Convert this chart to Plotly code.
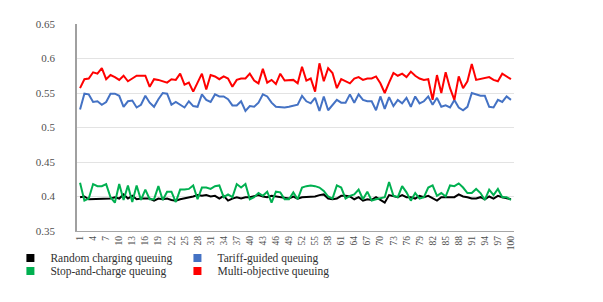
import plotly.graph_objects as go

x_vals = list(range(1, 101))
tick_vals = list(range(1, 101, 3))
tick_text = [str(v) for v in tick_vals]
y_ticks = [0.35, 0.4, 0.45, 0.5, 0.55, 0.6, 0.65]
y_text = ["0.35", "0.4", "0.45", "0.5", "0.55", "0.6", "0.65"]

random_q = [
    0.399, 0.400, 0.396, 0.396, 0.397, 0.396, 0.397, 0.397, 0.399, 0.397,
    0.403, 0.397, 0.401, 0.396, 0.397, 0.397, 0.397, 0.394, 0.397, 0.396,
    0.397, 0.395, 0.394, 0.396, 0.397, 0.399, 0.400, 0.402, 0.401, 0.402,
    0.400, 0.401, 0.397, 0.401, 0.394, 0.397, 0.399,
    0.397, 0.399, 0.399, 0.401, 0.402, 0.400, 0.399, 0.401, 0.400, 0.399,
    0.399, 0.397, 0.400, 0.397, 0.399, 0.399, 0.400, 0.400, 0.402, 0.403,
    0.397, 0.396, 0.397, 0.401, 0.401, 0.400, 0.396, 0.399, 0.394, 0.396,
    0.395, 0.399, 0.395, 0.391, 0.402, 0.401, 0.399, 0.402, 0.399,
    0.399, 0.397, 0.401, 0.399, 0.401, 0.397, 0.394, 0.399, 0.399, 0.400,
    0.399, 0.403, 0.400, 0.399, 0.397, 0.397, 0.399, 0.396, 0.400, 0.397,
    0.401, 0.399, 0.397, 0.396,
]

tariff_q = [
    0.526, 0.549, 0.548, 0.537, 0.538, 0.533, 0.537, 0.549, 0.549, 0.546,
    0.530, 0.538, 0.539, 0.529, 0.533, 0.546, 0.536, 0.530, 0.541, 0.550,
    0.549, 0.533, 0.537, 0.533, 0.529, 0.538, 0.531, 0.530, 0.548, 0.540,
    0.537, 0.548, 0.545, 0.545,
    0.541, 0.532, 0.532, 0.538, 0.524, 0.531, 0.530, 0.536, 0.548, 0.545,
    0.536, 0.530, 0.529, 0.529, 0.530, 0.532, 0.533, 0.546, 0.538, 0.535,
    0.543, 0.524, 0.545, 0.525, 0.533, 0.540, 0.536, 0.536, 0.548, 0.536,
    0.548, 0.540, 0.538,
    0.538, 0.525, 0.545, 0.527, 0.544, 0.531, 0.540, 0.535, 0.543, 0.530,
    0.545, 0.535, 0.538, 0.545, 0.533, 0.543, 0.530, 0.532, 0.529, 0.540,
    0.529, 0.525, 0.530, 0.550, 0.548, 0.546, 0.546, 0.530, 0.529, 0.540,
    0.537, 0.545, 0.540,
]

stop_q = [
    0.420, 0.394, 0.397, 0.418, 0.415, 0.415, 0.418, 0.399, 0.391, 0.418,
    0.395, 0.416, 0.392, 0.416, 0.395, 0.410, 0.396, 0.396, 0.415, 0.395,
    0.407, 0.407, 0.392, 0.410, 0.410, 0.411, 0.416, 0.396, 0.413, 0.413,
    0.411, 0.415, 0.416, 0.399, 0.403, 0.399, 0.418,
    0.413, 0.418, 0.396, 0.399, 0.405, 0.401, 0.407, 0.391, 0.407, 0.406,
    0.396, 0.396, 0.406, 0.396, 0.413, 0.415, 0.416, 0.415, 0.413, 0.408,
    0.400, 0.397, 0.416, 0.413, 0.397, 0.401, 0.403, 0.410, 0.396, 0.407,
    0.394, 0.396, 0.397, 0.399, 0.421, 0.401, 0.399, 0.415,
    0.406,
    0.394, 0.405, 0.397, 0.399, 0.413, 0.416, 0.401, 0.405, 0.400, 0.416,
    0.415, 0.419, 0.413, 0.405, 0.405, 0.411, 0.405, 0.395, 0.410, 0.402,
    0.411, 0.399, 0.399, 0.395,
]

multi_q = [
    0.557, 0.570, 0.571, 0.580, 0.578, 0.586, 0.570, 0.576, 0.573, 0.569,
    0.575, 0.567, 0.571, 0.575, 0.575, 0.575, 0.559, 0.570, 0.569, 0.567,
    0.565, 0.570, 0.569, 0.578, 0.562, 0.565, 0.552, 0.565, 0.578, 0.555,
    0.576, 0.574, 0.570, 0.574,
    0.571, 0.559, 0.569, 0.571, 0.571, 0.578, 0.568, 0.564, 0.585, 0.565,
    0.569, 0.563, 0.578, 0.568, 0.568, 0.569, 0.564, 0.588, 0.568, 0.571,
    0.552, 0.593, 0.567, 0.586, 0.579, 0.557, 0.570, 0.567, 0.564, 0.571,
    0.573, 0.569, 0.571,
    0.571, 0.574, 0.564, 0.550, 0.565, 0.579, 0.575, 0.578, 0.573, 0.581,
    0.575, 0.571, 0.569, 0.570, 0.540, 0.576, 0.550, 0.580, 0.557, 0.540,
    0.574, 0.557, 0.567, 0.592, 0.569, 0.570, 0.571, 0.573, 0.569, 0.567,
    0.578, 0.574, 0.570,
]

series = [
    ("Random charging queuing", random_q, "#000000"),
    ("Tariff-guided queuing", tariff_q, "#4472C4"),
    ("Stop-and-charge queuing", stop_q, "#00B050"),
    ("Multi-objective queuing", multi_q, "#FF0000"),
]
legend_ids = ["legend", "legend2", "legend3", "legend4"]

SERIF = "Liberation Serif"

fig = go.Figure()
for name, vals, color in series:
    fig.add_trace(go.Scatter(x=x_vals, y=vals, mode="lines", name=name,
                             line=dict(color=color, width=2),
                             showlegend=False))
for (name, vals, color), lg in zip(series, legend_ids):
    fig.add_trace(go.Scatter(x=[None], y=[None], mode="markers", name=name,
                             marker=dict(symbol="square", size=8, color=color),
                             showlegend=True, legend=lg))

legend_pos = {"legend": (0.004, 0.1725), "legend2": (0.281, 0.1725),
              "legend3": (0.004, 0.1295), "legend4": (0.281, 0.1295)}
legend_layouts = {}
for lg, (lx, ly) in legend_pos.items():
    legend_layouts[lg] = dict(xref="container", yref="container", x=lx, y=ly,
                              xanchor="left", yanchor="middle",
                              bgcolor="rgba(0,0,0,0)", itemwidth=30,
                              font=dict(family=SERIF, size=11.5, color="#303030"))

fig.update_layout(
    width=603, height=302,
    margin=dict(l=69, r=97, t=16, b=79, autoexpand=False),
    paper_bgcolor="white", plot_bgcolor="white",
    font=dict(family=SERIF, color="#404040"),
    xaxis=dict(range=[0.3, 100.7], tickvals=tick_vals, ticktext=tick_text,
               tickangle=-90, tickfont=dict(family=SERIF, size=9.5, color="#505050"),
               showgrid=False, showline=True, linecolor="#A6A6A6", linewidth=1.2,
               ticks="", zeroline=False),
    yaxis=dict(range=[0.35, 0.65], tickvals=y_ticks, ticktext=y_text,
               tickfont=dict(family=SERIF, size=11, color="#505050"),
               showgrid=True, gridcolor="#E3E3E3", gridwidth=1,
               showline=True, linecolor="#A0A0A0", linewidth=1.5,
               ticks="", ticklabelstandoff=18, zeroline=False),
    **legend_layouts,
)

fig.write_html("out.html")
